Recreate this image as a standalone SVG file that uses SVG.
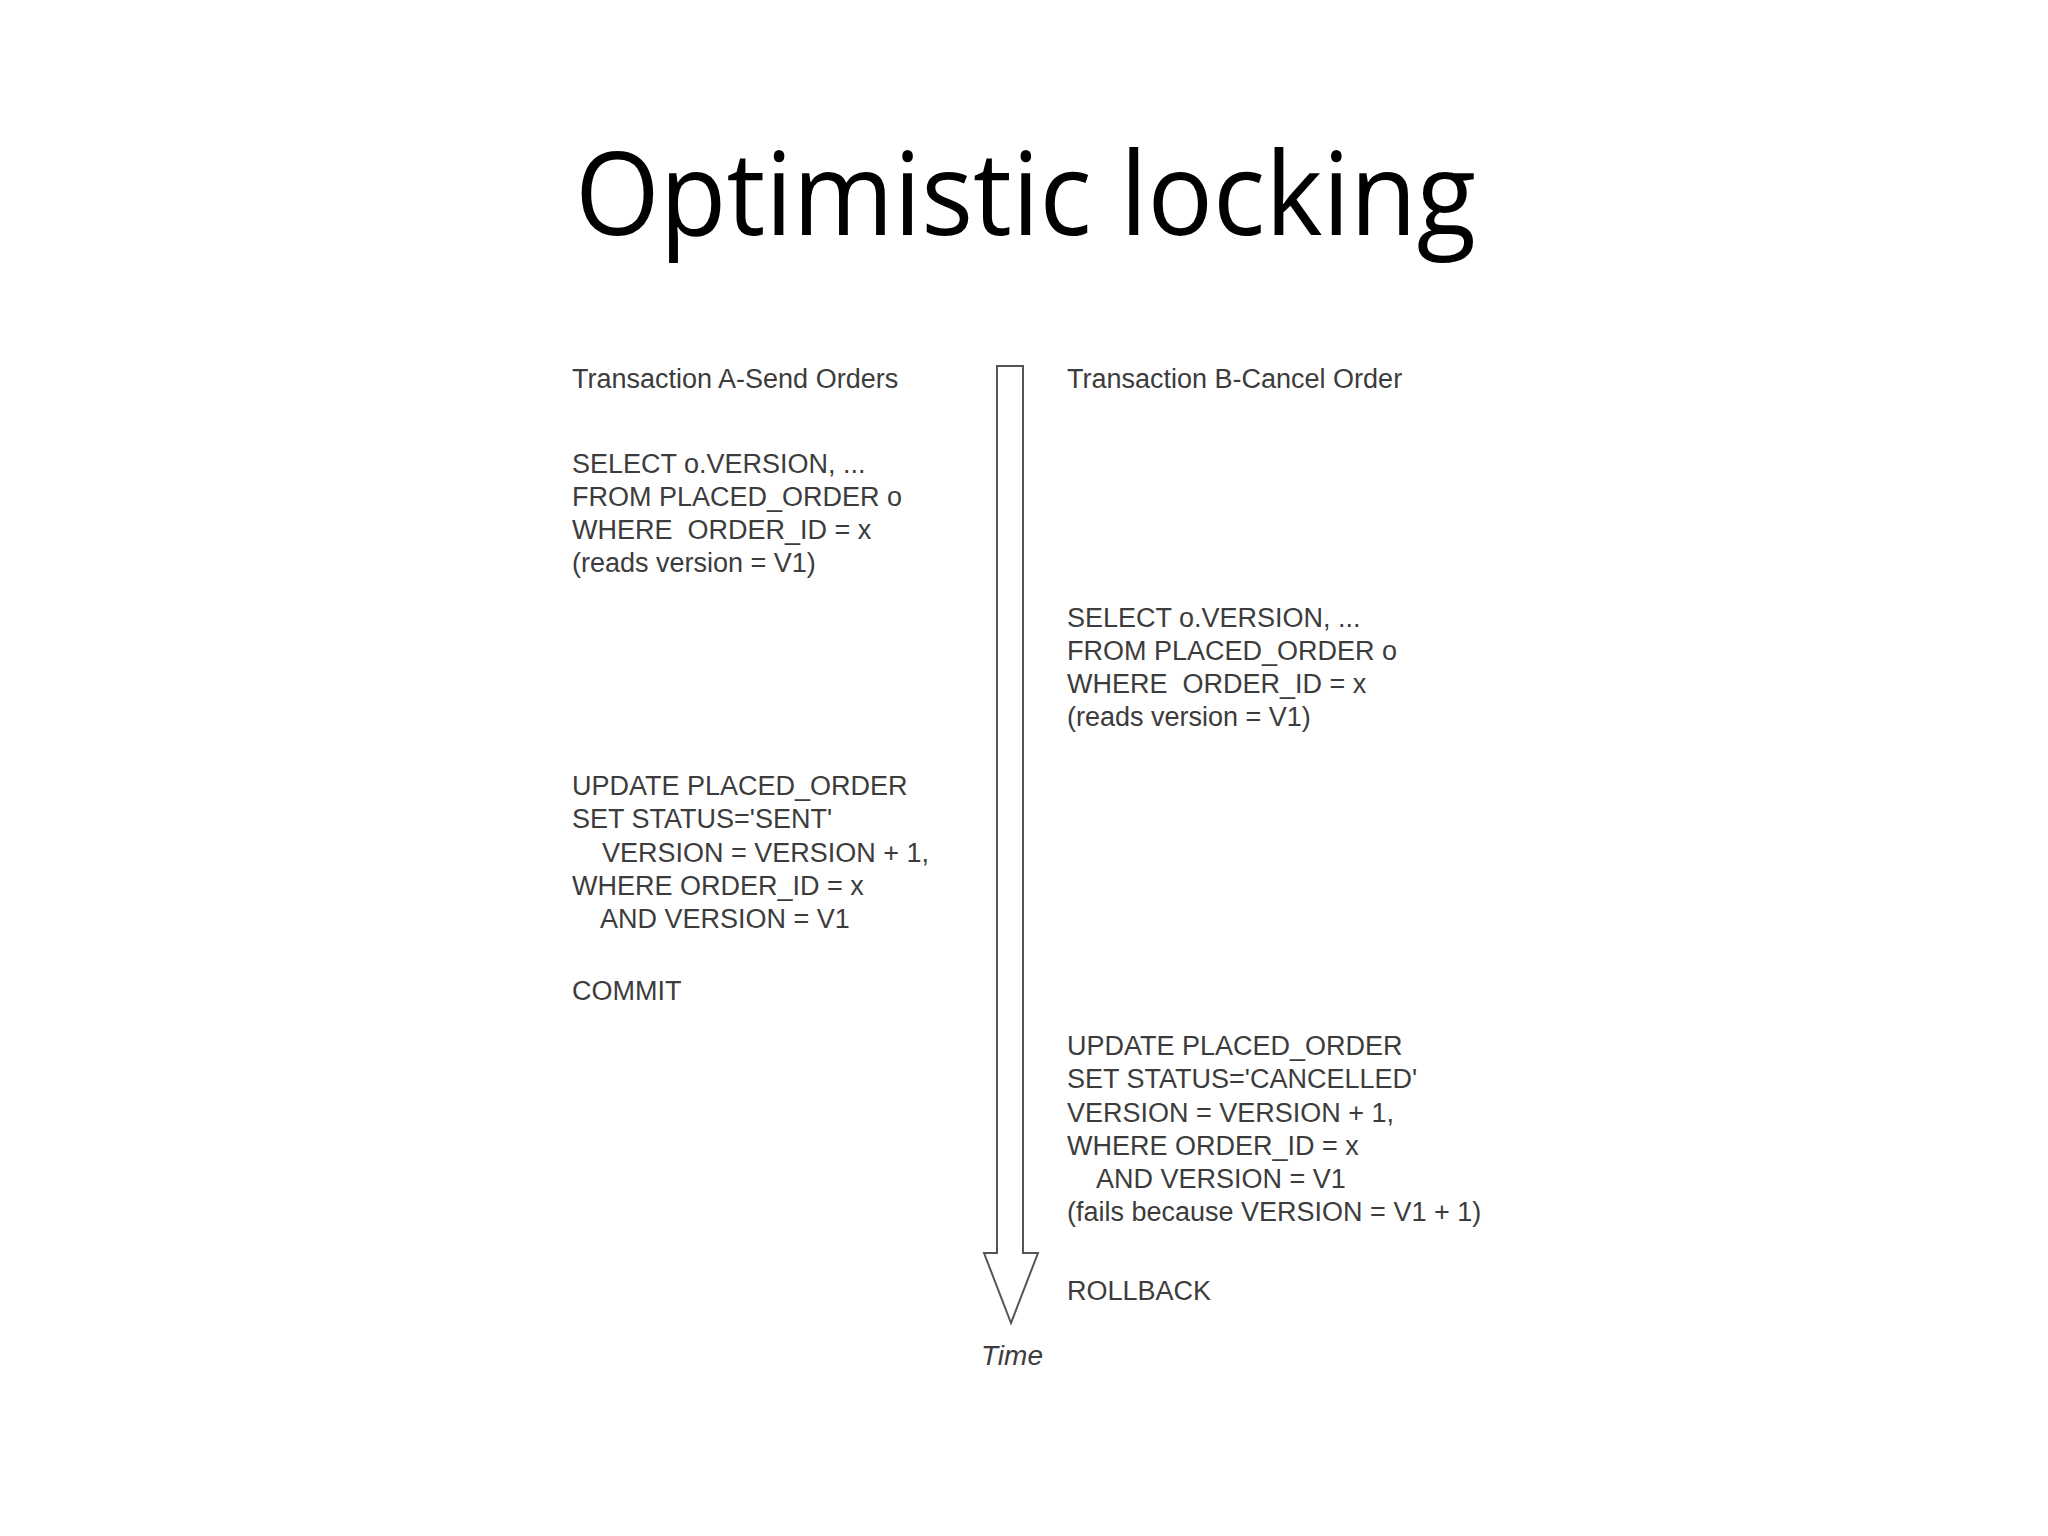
<svg xmlns="http://www.w3.org/2000/svg" width="2048" height="1536" viewBox="0 0 2048 1536">
<style>
.title{font-family:"Open Sans","Noto Sans",sans-serif;font-size:116px;fill:#000}
.t{font-family:"Liberation Sans",Arial,sans-serif;font-size:27px;fill:#3c3c3c;white-space:pre}
.time{font-family:"Liberation Sans",Arial,sans-serif;font-size:28px;font-style:italic;fill:#3c3c3c}
.arrow{fill:#fff;stroke:#555;stroke-width:2;stroke-linejoin:miter}
</style>
<rect width="2048" height="1536" fill="#fff"/>
<g id="title"><text class="title" x="575" y="235" textLength="901" lengthAdjust="spacingAndGlyphs">Optimistic locking</text></g>
<g id="connectors">
<polygon class="arrow" points="997,366 1023,366 1023,1253 1038,1253 1011,1323 984,1253 997,1253"/>
</g>
<g id="time"><text class="time" x="1012" y="1365" text-anchor="middle">Time</text></g>
<g id="headerA"><text class="t" x="572" y="388">Transaction A-Send Orders</text></g>
<g id="headerB"><text class="t" x="1067" y="388">Transaction B-Cancel Order</text></g>
<g id="selectA"><text class="t" xml:space="preserve"><tspan x="572" y="473">SELECT o.VERSION, ...</tspan><tspan x="572" y="506">FROM PLACED_ORDER o</tspan><tspan x="572" y="539">WHERE  ORDER_ID = x</tspan><tspan x="572" y="572">(reads version = V1)</tspan></text></g>
<g id="selectB"><text class="t" xml:space="preserve"><tspan x="1067" y="627">SELECT o.VERSION, ...</tspan><tspan x="1067" y="660">FROM PLACED_ORDER o</tspan><tspan x="1067" y="693">WHERE  ORDER_ID = x</tspan><tspan x="1067" y="726">(reads version = V1)</tspan></text></g>
<g id="updateA"><text class="t"><tspan x="572" y="795">UPDATE PLACED_ORDER</tspan><tspan x="572" y="828">SET STATUS='SENT'</tspan><tspan x="602" y="862">VERSION = VERSION + 1,</tspan><tspan x="572" y="895">WHERE ORDER_ID = x</tspan><tspan x="600" y="928">AND VERSION = V1</tspan></text></g>
<g id="commitA"><text class="t" x="572" y="1000">COMMIT</text></g>
<g id="updateB"><text class="t"><tspan x="1067" y="1055">UPDATE PLACED_ORDER</tspan><tspan x="1067" y="1088">SET STATUS='CANCELLED'</tspan><tspan x="1067" y="1122">VERSION = VERSION + 1,</tspan><tspan x="1067" y="1155">WHERE ORDER_ID = x</tspan><tspan x="1096" y="1188">AND VERSION = V1</tspan><tspan x="1067" y="1221">(fails because VERSION = V1 + 1)</tspan></text></g>
<g id="rollbackB"><text class="t" x="1067" y="1300">ROLLBACK</text></g>
</svg>
